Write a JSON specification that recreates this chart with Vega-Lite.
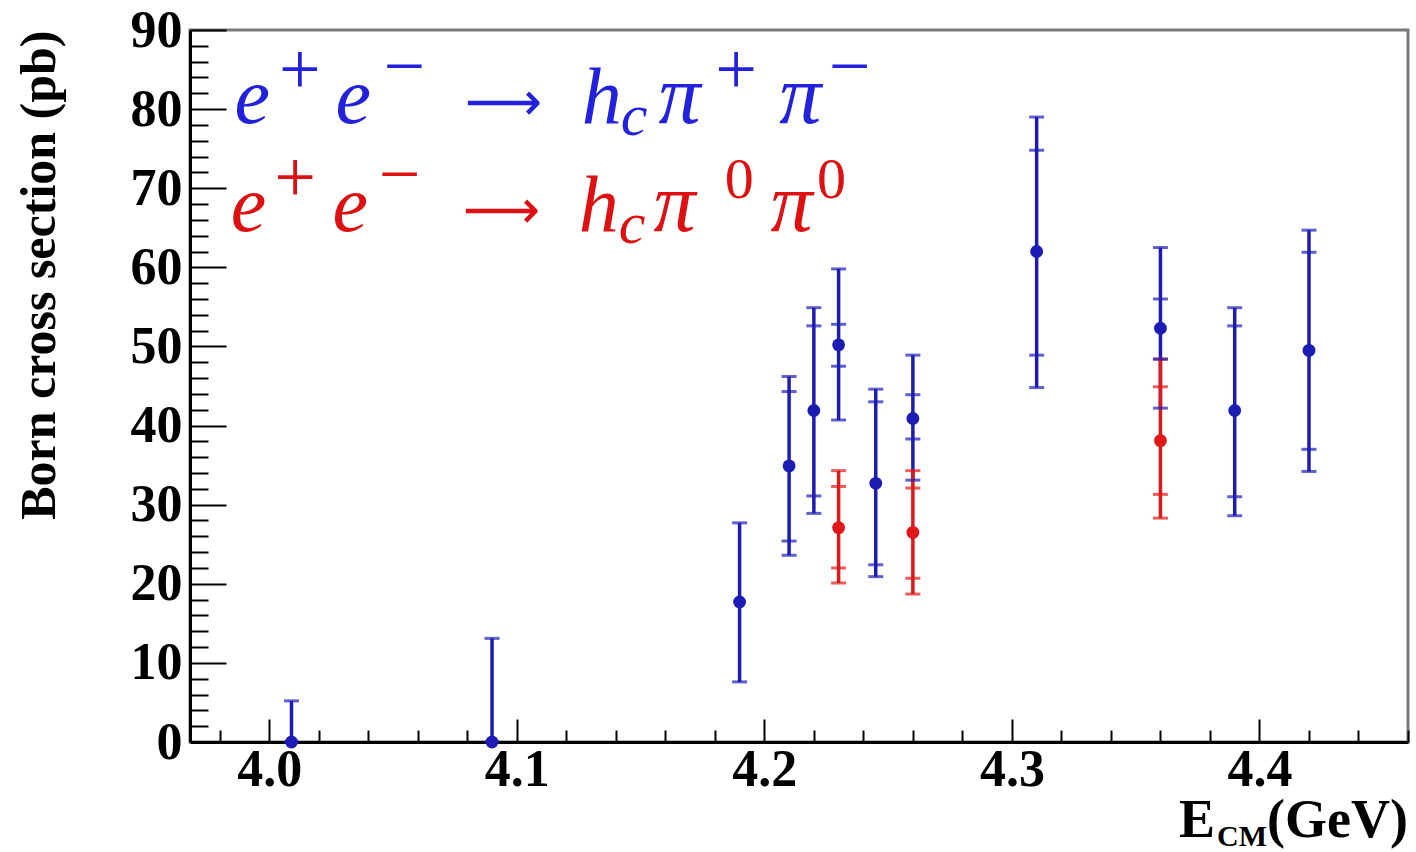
{
  "$schema": "https://vega.github.io/schema/vega-lite/v6.json",
  "width": 1218,
  "height": 712,
  "autosize": {"type": "none"},
  "padding": {"left": 190, "top": 30, "right": 8, "bottom": 110},
  "background": "white",
  "config": {
    "view": {"stroke": "#7a7a7a", "strokeWidth": 3},
    "axis": {"grid": false, "domainColor": "black", "domainWidth": 3, "tickColor": "black", "tickWidth": 2, "labelFont": "Liberation Serif", "labelFontWeight": "bold", "labelFontSize": 52, "labelColor": "black", "labelOverlap": false, "labelFlush": false, "titleFont": "Liberation Serif", "titleFontWeight": "bold", "titleColor": "black", "tickCount": 200}
  },
  "data": {
    "values": [
      {"E": 4.009, "xs": 0, "lo": 0, "hi": 5.2, "ilo": null, "ihi": null, "ch": "pipi"},
      {"E": 4.09, "xs": 0, "lo": 0, "hi": 13.1, "ilo": null, "ihi": null, "ch": "pipi"},
      {"E": 4.19, "xs": 17.7, "lo": 7.6, "hi": 27.7, "ilo": null, "ihi": null, "ch": "pipi"},
      {"E": 4.21, "xs": 34.9, "lo": 23.6, "hi": 46.2, "ilo": 25.4, "ihi": 44.3, "ch": "pipi"},
      {"E": 4.22, "xs": 41.9, "lo": 28.9, "hi": 54.9, "ilo": 31.1, "ihi": 52.6, "ch": "pipi"},
      {"E": 4.23, "xs": 50.2, "lo": 40.7, "hi": 59.8, "ilo": 47.5, "ihi": 52.8, "ch": "pipi"},
      {"E": 4.245, "xs": 32.7, "lo": 20.9, "hi": 44.6, "ilo": 22.4, "ihi": 43.0, "ch": "pipi"},
      {"E": 4.26, "xs": 40.9, "lo": 33.1, "hi": 48.9, "ilo": 38.3, "ihi": 43.9, "ch": "pipi"},
      {"E": 4.31, "xs": 62.0, "lo": 44.8, "hi": 79.0, "ilo": 48.9, "ihi": 74.8, "ch": "pipi"},
      {"E": 4.36, "xs": 52.3, "lo": 42.2, "hi": 62.5, "ilo": 48.4, "ihi": 56.0, "ch": "pipi"},
      {"E": 4.39, "xs": 41.9, "lo": 28.6, "hi": 54.9, "ilo": 31.0, "ihi": 52.6, "ch": "pipi"},
      {"E": 4.42, "xs": 49.5, "lo": 34.2, "hi": 64.7, "ilo": 37.0, "ihi": 61.9, "ch": "pipi"},
      {"E": 4.23, "xs": 27.1, "lo": 20.1, "hi": 34.3, "ilo": 22.0, "ihi": 32.3, "ch": "pi0pi0"},
      {"E": 4.26, "xs": 26.5, "lo": 18.7, "hi": 34.3, "ilo": 20.7, "ihi": 32.1, "ch": "pi0pi0"},
      {"E": 4.36, "xs": 38.1, "lo": 28.3, "hi": 48.4, "ilo": 31.3, "ihi": 44.9, "ch": "pi0pi0"}
    ]
  },
  "layer": [
    {
      "mark": {"type": "rule", "strokeWidth": 3.5},
      "encoding": {
        "x": {"field": "E", "type": "quantitative", "scale": {"domain": [3.968, 4.46], "nice": false, "zero": false},
          "axis": {"title": null, "values": [3.98, 4.0, 4.02, 4.04, 4.06, 4.08, 4.1, 4.12, 4.14, 4.16, 4.18, 4.2, 4.22, 4.24, 4.26, 4.28, 4.3, 4.32, 4.34, 4.36, 4.38, 4.4, 4.42, 4.44, 4.46],
            "labelExpr": "abs(datum.value*10 - round(datum.value*10)) < 0.001 ? format(datum.value, '.1f') : ''",
            "tickSize": {"condition": {"test": "abs(datum.value*10 - round(datum.value*10)) < 0.001", "value": -23}, "value": -12},
            "labelPadding": 25}},
        "y": {"field": "lo", "type": "quantitative", "scale": {"domain": [0, 90], "nice": false},
          "axis": {"title": "Born cross section (pb)", "titleFontSize": 50, "titleAnchor": "end", "titlePadding": 66,
            "values": [0, 2, 4, 6, 8, 10, 12, 14, 16, 18, 20, 22, 24, 26, 28, 30, 32, 34, 36, 38, 40, 42, 44, 46, 48, 50, 52, 54, 56, 58, 60, 62, 64, 66, 68, 70, 72, 74, 76, 78, 80, 82, 84, 86, 88, 90],
            "labelExpr": "datum.value % 10 == 0 ? format(datum.value, 'd') : ''",
            "tickSize": {"condition": {"test": "datum.value % 10 == 0", "value": -36}, "value": -18},
            "labelPadding": 44}},
        "y2": {"field": "hi"},
        "color": {"field": "ch", "type": "nominal", "scale": {"domain": ["pipi", "pi0pi0"], "range": ["#1c1cb4", "#e01818"]}, "legend": null}
      }
    },
    {
      "mark": {"type": "tick", "orient": "horizontal", "size": 15, "thickness": 3},
      "encoding": {"x": {"field": "E", "type": "quantitative"}, "y": {"field": "lo", "type": "quantitative"}, "color": {"field": "ch", "type": "nominal"}}
    },
    {
      "mark": {"type": "tick", "orient": "horizontal", "size": 15, "thickness": 3},
      "encoding": {"x": {"field": "E", "type": "quantitative"}, "y": {"field": "hi", "type": "quantitative"}, "color": {"field": "ch", "type": "nominal"}}
    },
    {
      "mark": {"type": "tick", "orient": "horizontal", "size": 15, "thickness": 3},
      "encoding": {"x": {"field": "E", "type": "quantitative"}, "y": {"field": "ilo", "type": "quantitative"}, "color": {"field": "ch", "type": "nominal"}}
    },
    {
      "mark": {"type": "tick", "orient": "horizontal", "size": 15, "thickness": 3},
      "encoding": {"x": {"field": "E", "type": "quantitative"}, "y": {"field": "ihi", "type": "quantitative"}, "color": {"field": "ch", "type": "nominal"}}
    },
    {
      "mark": {"type": "point", "shape": "circle", "filled": true, "size": 165, "opacity": 1},
      "encoding": {"x": {"field": "E", "type": "quantitative"}, "y": {"field": "xs", "type": "quantitative"}, "color": {"field": "ch", "type": "nominal"}}
    },
    {"data": {"values": [{"t": "e"}]}, "mark": {"type": "text", "font": "Liberation Serif", "fontStyle": "italic", "fontSize": 80, "color": "#2222dd", "align": "left", "baseline": "alphabetic"}, "encoding": {"x": {"datum": 3.986}, "y": {"datum": 78.25}, "text": {"field": "t"}}},
    {"data": {"values": [{"t": "+"}]}, "mark": {"type": "text", "font": "Liberation Serif", "fontSize": 74, "color": "#2222dd", "align": "left", "baseline": "alphabetic"}, "encoding": {"x": {"datum": 4.0040}, "y": {"datum": 81.9}, "text": {"field": "t"}}},
    {"data": {"values": [{"t": "e"}]}, "mark": {"type": "text", "font": "Liberation Serif", "fontStyle": "italic", "fontSize": 80, "color": "#2222dd", "align": "left", "baseline": "alphabetic"}, "encoding": {"x": {"datum": 4.0268}, "y": {"datum": 78.25}, "text": {"field": "t"}}},
    {"data": {"values": [{"t": "−"}]}, "mark": {"type": "text", "font": "Liberation Serif", "fontSize": 74, "color": "#2222dd", "align": "left", "baseline": "alphabetic"}, "encoding": {"x": {"datum": 4.0462}, "y": {"datum": 82.3}, "text": {"field": "t"}}},
    {"data": {"values": [{"t": "⟶"}]}, "mark": {"type": "text", "font": "DejaVu Sans", "fontSize": 54, "color": "#2222dd", "align": "left", "baseline": "alphabetic"}, "encoding": {"x": {"datum": 4.0790}, "y": {"datum": 78.6}, "text": {"field": "t"}}},
    {"data": {"values": [{"t": "h"}]}, "mark": {"type": "text", "font": "Liberation Serif", "fontStyle": "italic", "fontSize": 80, "color": "#2222dd", "align": "left", "baseline": "alphabetic"}, "encoding": {"x": {"datum": 4.1262}, "y": {"datum": 78.25}, "text": {"field": "t"}}},
    {"data": {"values": [{"t": "c"}]}, "mark": {"type": "text", "font": "Liberation Serif", "fontStyle": "italic", "fontSize": 60, "color": "#2222dd", "align": "left", "baseline": "alphabetic"}, "encoding": {"x": {"datum": 4.1420}, "y": {"datum": 76.7}, "text": {"field": "t"}}},
    {"data": {"values": [{"t": "π"}]}, "mark": {"type": "text", "font": "Liberation Serif", "fontStyle": "italic", "fontSize": 84, "color": "#2222dd", "align": "left", "baseline": "alphabetic"}, "encoding": {"x": {"datum": 4.1572}, "y": {"datum": 78.25}, "text": {"field": "t"}}},
    {"data": {"values": [{"t": "+"}]}, "mark": {"type": "text", "font": "Liberation Serif", "fontSize": 74, "color": "#2222dd", "align": "left", "baseline": "alphabetic"}, "encoding": {"x": {"datum": 4.1802}, "y": {"datum": 81.9}, "text": {"field": "t"}}},
    {"data": {"values": [{"t": "π"}]}, "mark": {"type": "text", "font": "Liberation Serif", "fontStyle": "italic", "fontSize": 84, "color": "#2222dd", "align": "left", "baseline": "alphabetic"}, "encoding": {"x": {"datum": 4.2060}, "y": {"datum": 78.25}, "text": {"field": "t"}}},
    {"data": {"values": [{"t": "−"}]}, "mark": {"type": "text", "font": "Liberation Serif", "fontSize": 74, "color": "#2222dd", "align": "left", "baseline": "alphabetic"}, "encoding": {"x": {"datum": 4.2260}, "y": {"datum": 82.3}, "text": {"field": "t"}}},
    {"data": {"values": [{"t": "e"}]}, "mark": {"type": "text", "font": "Liberation Serif", "fontStyle": "italic", "fontSize": 80, "color": "#dd1111", "align": "left", "baseline": "alphabetic"}, "encoding": {"x": {"datum": 3.9845}, "y": {"datum": 64.6}, "text": {"field": "t"}}},
    {"data": {"values": [{"t": "+"}]}, "mark": {"type": "text", "font": "Liberation Serif", "fontSize": 74, "color": "#dd1111", "align": "left", "baseline": "alphabetic"}, "encoding": {"x": {"datum": 4.0020}, "y": {"datum": 68.2}, "text": {"field": "t"}}},
    {"data": {"values": [{"t": "e"}]}, "mark": {"type": "text", "font": "Liberation Serif", "fontStyle": "italic", "fontSize": 80, "color": "#dd1111", "align": "left", "baseline": "alphabetic"}, "encoding": {"x": {"datum": 4.0256}, "y": {"datum": 64.6}, "text": {"field": "t"}}},
    {"data": {"values": [{"t": "−"}]}, "mark": {"type": "text", "font": "Liberation Serif", "fontSize": 74, "color": "#dd1111", "align": "left", "baseline": "alphabetic"}, "encoding": {"x": {"datum": 4.0442}, "y": {"datum": 68.6}, "text": {"field": "t"}}},
    {"data": {"values": [{"t": "⟶"}]}, "mark": {"type": "text", "font": "DejaVu Sans", "fontSize": 54, "color": "#dd1111", "align": "left", "baseline": "alphabetic"}, "encoding": {"x": {"datum": 4.0782}, "y": {"datum": 64.95}, "text": {"field": "t"}}},
    {"data": {"values": [{"t": "h"}]}, "mark": {"type": "text", "font": "Liberation Serif", "fontStyle": "italic", "fontSize": 80, "color": "#dd1111", "align": "left", "baseline": "alphabetic"}, "encoding": {"x": {"datum": 4.1250}, "y": {"datum": 64.6}, "text": {"field": "t"}}},
    {"data": {"values": [{"t": "c"}]}, "mark": {"type": "text", "font": "Liberation Serif", "fontStyle": "italic", "fontSize": 60, "color": "#dd1111", "align": "left", "baseline": "alphabetic"}, "encoding": {"x": {"datum": 4.1412}, "y": {"datum": 63.08}, "text": {"field": "t"}}},
    {"data": {"values": [{"t": "π"}]}, "mark": {"type": "text", "font": "Liberation Serif", "fontStyle": "italic", "fontSize": 84, "color": "#dd1111", "align": "left", "baseline": "alphabetic"}, "encoding": {"x": {"datum": 4.1552}, "y": {"datum": 64.6}, "text": {"field": "t"}}},
    {"data": {"values": [{"t": "0"}]}, "mark": {"type": "text", "font": "Liberation Serif", "fontSize": 58, "color": "#dd1111", "align": "left", "baseline": "alphabetic"}, "encoding": {"x": {"datum": 4.1840}, "y": {"datum": 68.8}, "text": {"field": "t"}}},
    {"data": {"values": [{"t": "π"}]}, "mark": {"type": "text", "font": "Liberation Serif", "fontStyle": "italic", "fontSize": 84, "color": "#dd1111", "align": "left", "baseline": "alphabetic"}, "encoding": {"x": {"datum": 4.2025}, "y": {"datum": 64.6}, "text": {"field": "t"}}},
    {"data": {"values": [{"t": "0"}]}, "mark": {"type": "text", "font": "Liberation Serif", "fontSize": 58, "color": "#dd1111", "align": "left", "baseline": "alphabetic"}, "encoding": {"x": {"datum": 4.2213}, "y": {"datum": 68.8}, "text": {"field": "t"}}},
    {"data": {"values": [{"t": "(GeV)"}]}, "mark": {"type": "text", "font": "Liberation Serif", "fontWeight": "bold", "fontSize": 54, "color": "black", "align": "right", "baseline": "alphabetic"}, "encoding": {"x": {"datum": 4.46}, "y": {"datum": -12.0}, "text": {"field": "t"}}},
    {"data": {"values": [{"t": "CM"}]}, "mark": {"type": "text", "font": "Liberation Serif", "fontWeight": "bold", "fontSize": 30, "color": "black", "align": "right", "baseline": "alphabetic", "dx": -141}, "encoding": {"x": {"datum": 4.46}, "y": {"datum": -13.2}, "text": {"field": "t"}}},
    {"data": {"values": [{"t": "E"}]}, "mark": {"type": "text", "font": "Liberation Serif", "fontWeight": "bold", "fontSize": 54, "color": "black", "align": "right", "baseline": "alphabetic", "dx": -193}, "encoding": {"x": {"datum": 4.46}, "y": {"datum": -12.0}, "text": {"field": "t"}}}
  ]
}
